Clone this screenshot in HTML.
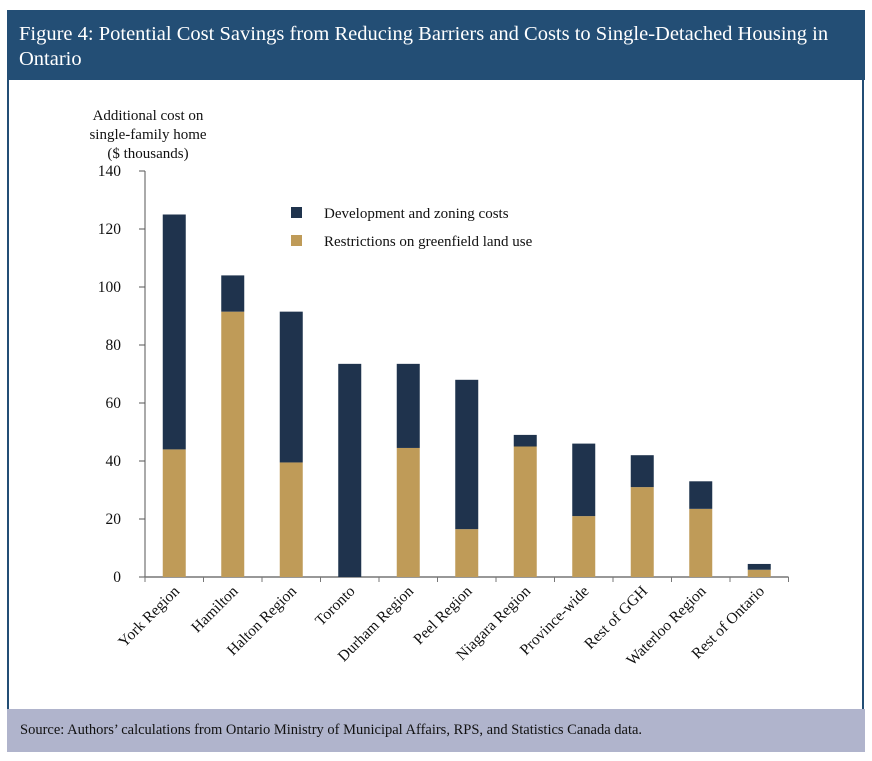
<!DOCTYPE html>
<html><head><meta charset="utf-8"><style>
body{margin:0;background:#fff;width:872px;height:761px;overflow:hidden;font-family:"Liberation Serif",serif;}
#hdr{position:absolute;left:7px;top:10px;width:858px;height:70px;background:#234e75;color:#fff;font-size:20.5px;line-height:25px;box-sizing:border-box;padding:12px 0 0 12px;white-space:nowrap;overflow:hidden;}
#panel{position:absolute;left:7px;top:80px;width:857px;height:629px;border-left:2px solid #234e75;border-right:2px solid #234e75;box-sizing:border-box;}
#ftr{position:absolute;left:7px;top:709px;width:858px;height:43px;background:#b0b4cc;font-size:14.5px;line-height:43px;padding-left:13px;box-sizing:border-box;color:#111;}
svg{position:absolute;left:0;top:0;}
</style></head><body>
<div id="hdr">Figure 4: Potential Cost Savings from Reducing Barriers and Costs to Single-Detached Housing in<br>Ontario</div>
<div id="panel"></div>
<div id="ftr">Source: Authors’ calculations from Ontario Ministry of Municipal Affairs, RPS, and Statistics Canada data.</div>
<svg id="chart" width="872" height="761"></svg>
<script>
const categories=["York Region","Hamilton","Halton Region","Toronto","Durham Region","Peel Region","Niagara Region","Province-wide","Rest of GGH","Waterloo Region","Rest of Ontario"];
const greenfield=[44,91.5,39.5,0,44.5,16.5,45,21,31,23.5,2.5];
const totals=[125,104,91.5,73.5,73.5,68,49,46,42,33,4.5];
const yTicks=[0,20,40,60,80,100,120,140];
const NS="http://www.w3.org/2000/svg";
const svg=document.getElementById('chart');
const x0=145,step=58.5,bw=23;
const y=v=>577-v*2.9;
const xc=i=>x0+step*(i+0.5);
function mk(t,a,txt){const e=document.createElementNS(NS,t);for(const k in a)e.setAttribute(k,a[k]);if(txt!==undefined)e.textContent=txt;svg.appendChild(e);return e;}
const yt=mk('text',{x:148,y:120,'text-anchor':'middle','font-family':'Liberation Serif,serif','font-size':15,fill:'#111'});


[["Additional cost on",0],["single-family home",19],["($ thousands)",38]].forEach(([s,dy])=>{const t=document.createElementNS(NS,'tspan');t.setAttribute('x',148);t.setAttribute('y',120+dy);t.textContent=s;yt.appendChild(t);});
const ya=mk('line',{x1:x0,y1:y(140),x2:x0,y2:y(0),stroke:'#555','stroke-width':1});


yTicks.forEach(v=>{
 const tk=mk('line',{x1:x0-6,y1:y(v),x2:x0,y2:y(v),stroke:'#555'});
 
 
 const tl=mk('text',{x:121,y:y(v)+5,'text-anchor':'end','font-size':15.5,fill:'#111','font-family':'Liberation Serif,serif'},v);
 
 
});
const xa=mk('line',{x1:x0,y1:y(0),x2:x0+step*categories.length,y2:y(0),stroke:'#777','stroke-width':1.5});


for(let i=0;i<=categories.length;i++){
 const tk=mk('line',{x1:x0+step*i,y1:y(0),x2:x0+step*i,y2:y(0)+5,stroke:'#777'});
 
 
}
categories.forEach((c,i)=>{
 const g=greenfield[i],t=totals[i],cx=xc(i);
 const b1=mk('rect',{x:cx-bw/2,y:y(g),width:bw,height:y(0)-y(g),fill:'#bf9b58'});
 
 
 const b2=mk('rect',{x:cx-bw/2,y:y(t),width:bw,height:y(g)-y(t),fill:'#1f334d'});
 
 
 const lb=mk('text',{x:cx+6,y:y(0)+15,'text-anchor':'end','font-size':15.5,fill:'#111','font-family':'Liberation Serif,serif',transform:`rotate(-45 ${cx+6} ${y(0)+15})`},c);
 
 
});
[["#1f334d","Development and zoning costs",213],["#bf9b58","Restrictions on greenfield land use",241]].forEach(([col,s,yy])=>{
 const r=mk('rect',{x:291,y:yy-6,width:11,height:11,fill:col});
 
 
 const t=mk('text',{x:324,y:yy+5,'font-size':15,fill:'#111','font-family':'Liberation Serif,serif'},s);
 
 
});
</script>
</body></html>
